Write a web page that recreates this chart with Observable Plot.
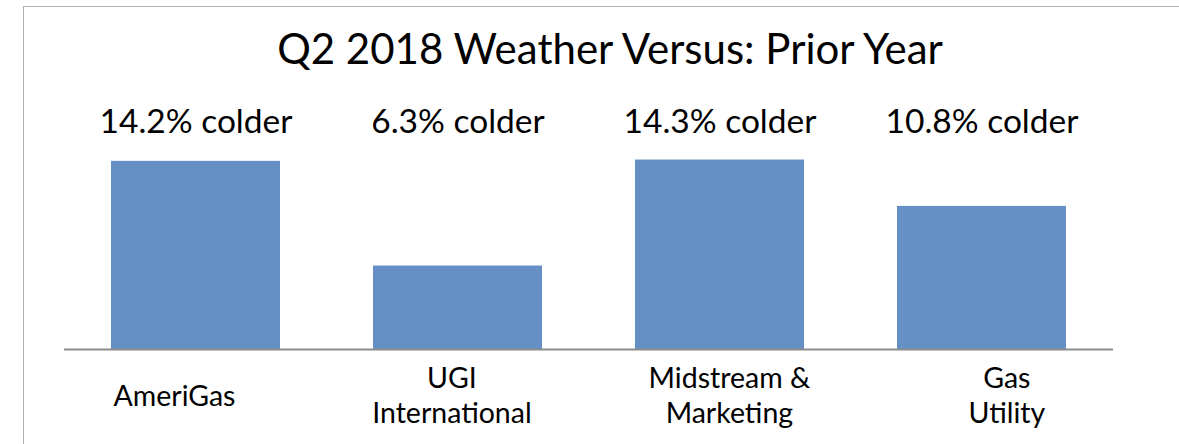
<!DOCTYPE html>
<html>
<head>
<meta charset="utf-8">
<script src="https://cdn.jsdelivr.net/npm/d3@7"></script>
<script src="https://cdn.jsdelivr.net/npm/@observablehq/plot@0.6"></script>
<style>
  html, body { margin: 0; padding: 0; background: #fff; }
  #wrap { position: relative; width: 1179px; height: 444px; overflow: hidden; font-family: Lato, "Open Sans", sans-serif; }
  #frame { position: absolute; left: 23px; top: 6px; width: 1300px; height: 600px; border-top: 1.5px solid #b0b0b0; border-left: 1.5px solid #b0b0b0; }
  #title { position: absolute; left: 0; width: 1220px; top: 23px; text-align: center; font-size: 42px; color: #000; line-height: 50px; }
  #chart { position: absolute; left: 0; top: 0; }
</style>
</head>
<body>
<div id="wrap">
  <div id="frame"></div>
  <div id="chart"></div>
  <div id="title">Q2 2018 Weather Versus: Prior Year</div>
</div>
<script>
const categories = ["AmeriGas", "UGI International", "Midstream & Marketing", "Gas Utility"];
const categoryLabels = ["AmeriGas", "UGI\nInternational", "Midstream &\nMarketing", "Gas\nUtility"];
const values = [14.2, 6.3, 14.3, 10.8];
const valueLabels = ["14.2% colder", "6.3% colder", "14.3% colder", "10.8% colder"];

const data = categories.map((c, i) => ({cat: c, value: values[i], label: valueLabels[i], catLabel: categoryLabels[i], i}));

const chart = Plot.plot({
  width: 1179,
  height: 444,
  marginLeft: 64,
  marginRight: 66,
  marginTop: 137,
  marginBottom: 95,
  style: {fontFamily: "Lato, 'Open Sans', sans-serif", background: "transparent", overflow: "visible"},
  x: {domain: categories, paddingInner: 0.355, paddingOuter: 0.178, axis: null},
  y: {domain: [0, 16], axis: null},
  marks: [
    Plot.barY(data, {x: "cat", y: "value", fill: "#6490c6"}),
    Plot.ruleY([0], {stroke: "#8c8c8c", strokeWidth: 2}),
    Plot.text(data, {x: "cat", text: "label", frameAnchor: "top", dy: -15, fontSize: 33.5, fill: "#000", lineAnchor: "middle"}),
    ...data.map(d => Plot.text([d], {x: "cat", text: "catLabel", frameAnchor: "bottom", dy: 45, dx: -21.5 + d.i * 15.45, fontSize: 28.5, lineHeight: 1.23, fill: "#000", lineAnchor: "middle"}))
  ]
});
document.getElementById("chart").appendChild(chart);
</script>
</body>
</html>
